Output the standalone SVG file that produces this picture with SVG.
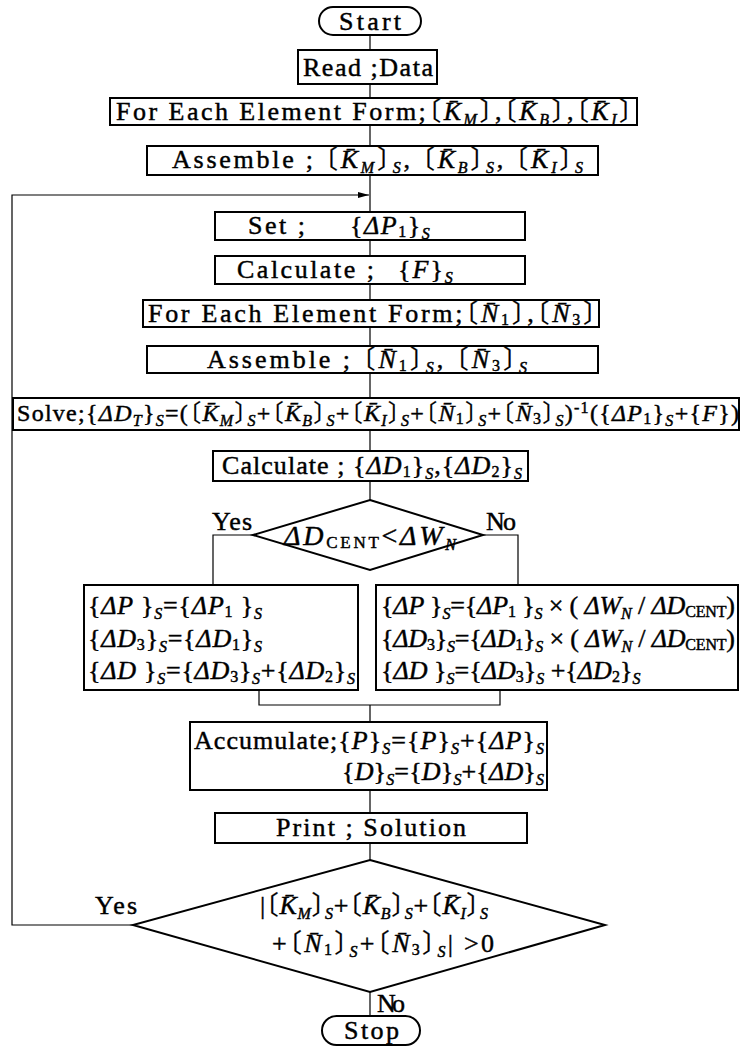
<svg xmlns="http://www.w3.org/2000/svg" width="740" height="1052" viewBox="0 0 740 1052">
<defs>
<style>
.box{fill:#fff;stroke:#000;stroke-width:2}
.ln{fill:none;stroke:#000;stroke-width:1.2}
.t{font-family:"Liberation Serif","Noto Sans CJK JP",serif;font-size:26px;fill:#000;stroke:#000;stroke-width:0.45}
.sm{font-size:24px}
.lg{font-size:28px}
.i{font-style:italic}
.s{font-size:16px;font-style:italic}
.d{font-size:16px;font-style:normal}
.c{font-size:17px;font-style:normal}
.br{font-family:"Noto Sans CJK JP",sans-serif;font-feature-settings:"halt";font-style:normal;stroke-width:0.2}
</style>
<marker id="arr" markerWidth="12" markerHeight="8" refX="11" refY="4" orient="auto" markerUnits="userSpaceOnUse">
<path d="M0,1 L11,4 L0,7 Z" fill="#000"/>
</marker>
</defs>
<rect width="740" height="1052" fill="#fff"/>

<g id="connectors">
<path class="ln" d="M370,35 V50 M370,84 V98 M370,125 V146 M370,175 V212 M370,240 V256 M370,284 V300 M370,327 V346 M370,373 V398 M370,430 V451 M370,481 V500"/>
<path class="ln" d="M253,535 H213 V585 M483,535 H518 V585"/>
<path class="ln" d="M259,690 V705 H500 V690 M370,705 V722 M370,790 V813 M370,843 V860 M370,992 V1016"/>
<path class="ln" d="M133,925 H12 V195 H369" marker-end="url(#arr)"/>
</g>

<g id="start">
<rect class="box" x="319" y="7" width="102" height="28" rx="14"/>
<text class="t" x="339" y="30" textLength="62">Start</text>
</g>

<g id="read">
<rect class="box" x="298" y="50" width="139" height="34"/>
<text class="t" x="303" y="76" textLength="130">Read ;Data</text>
</g>

<g id="form1">
<rect class="box" x="110" y="98" width="527" height="27"/>
<text class="t" x="116" y="120" textLength="516">For Each Element Form;<tspan class="br">〔</tspan><tspan class="i">K&#x304;</tspan><tspan class="s" baseline-shift="-5">M</tspan><tspan class="br">〕</tspan>,<tspan class="br">〔</tspan><tspan class="i">K&#x304;</tspan><tspan class="s" baseline-shift="-5">B</tspan><tspan class="br">〕</tspan>,<tspan class="br">〔</tspan><tspan class="i">K&#x304;</tspan><tspan class="s" baseline-shift="-5">I</tspan><tspan class="br">〕</tspan></text>
</g>

<g id="assemble1">
<rect class="box" x="147" y="146" width="451" height="29"/>
<text class="t" x="172" y="168" textLength="411">Assemble ; <tspan class="br">〔</tspan><tspan class="i">K&#x304;</tspan><tspan class="s" baseline-shift="-5">M</tspan><tspan class="br">〕</tspan><tspan class="s" baseline-shift="-5">S</tspan>, <tspan class="br">〔</tspan><tspan class="i">K&#x304;</tspan><tspan class="s" baseline-shift="-5">B</tspan><tspan class="br">〕</tspan><tspan class="s" baseline-shift="-5">S</tspan>, <tspan class="br">〔</tspan><tspan class="i">K&#x304;</tspan><tspan class="s" baseline-shift="-5">I</tspan><tspan class="br">〕</tspan><tspan class="s" baseline-shift="-5">S</tspan></text>
</g>

<g id="set">
<rect class="box" x="215" y="212" width="310" height="28"/>
<text class="t" x="248" y="234" letter-spacing="2.5">Set ;<tspan x="350" letter-spacing="1.5">{<tspan class="i">ΔP</tspan><tspan class="d" baseline-shift="-3">1</tspan>}<tspan class="s" baseline-shift="-5">S</tspan></tspan></text>
</g>

<g id="calcF">
<rect class="box" x="215" y="256" width="310" height="28"/>
<text class="t" x="237" y="278" letter-spacing="2.5">Calculate ;<tspan x="398" letter-spacing="2">{<tspan class="i">F</tspan>}<tspan class="s" baseline-shift="-5">S</tspan></tspan></text>
</g>

<g id="form2">
<rect class="box" x="143" y="300" width="456" height="27"/>
<text class="t" x="148" y="322" textLength="448">For Each Element Form;<tspan class="br">〔</tspan><tspan class="i">N&#x304;</tspan><tspan class="d" baseline-shift="-3">1</tspan><tspan class="br">〕</tspan>,<tspan class="br">〔</tspan><tspan class="i">N&#x304;</tspan><tspan class="d" baseline-shift="-3">3</tspan><tspan class="br">〕</tspan></text>
</g>

<g id="assemble2">
<rect class="box" x="147" y="346" width="451" height="27"/>
<text class="t" x="207" y="368" textLength="320">Assemble ;  <tspan class="br">〔</tspan><tspan class="i">N&#x304;</tspan><tspan class="d" baseline-shift="-3">1</tspan><tspan class="br">〕</tspan><tspan class="s" baseline-shift="-5">S</tspan>, <tspan class="br">〔</tspan><tspan class="i">N&#x304;</tspan><tspan class="d" baseline-shift="-3">3</tspan><tspan class="br">〕</tspan><tspan class="s" baseline-shift="-5">S</tspan></text>
</g>

<g id="solve">
<rect class="box" x="13" y="398" width="726" height="32"/>
<text class="t sm" x="17" y="421" textLength="722">Solve;{<tspan class="i">ΔD</tspan><tspan class="s" baseline-shift="-5">T</tspan>}<tspan class="s" baseline-shift="-5">S</tspan>=(<tspan class="br">〔</tspan><tspan class="i">K&#x304;</tspan><tspan class="s" baseline-shift="-5">M</tspan><tspan class="br">〕</tspan><tspan class="s" baseline-shift="-5">S</tspan>+<tspan class="br">〔</tspan><tspan class="i">K&#x304;</tspan><tspan class="s" baseline-shift="-5">B</tspan><tspan class="br">〕</tspan><tspan class="s" baseline-shift="-5">S</tspan>+<tspan class="br">〔</tspan><tspan class="i">K&#x304;</tspan><tspan class="s" baseline-shift="-5">I</tspan><tspan class="br">〕</tspan><tspan class="s" baseline-shift="-5">S</tspan>+<tspan class="br">〔</tspan><tspan class="i">N&#x304;</tspan><tspan class="d" baseline-shift="-3">1</tspan><tspan class="br">〕</tspan><tspan class="s" baseline-shift="-5">S</tspan>+<tspan class="br">〔</tspan><tspan class="i">N&#x304;</tspan><tspan class="d" baseline-shift="-3">3</tspan><tspan class="br">〕</tspan><tspan class="s" baseline-shift="-5">S</tspan>)<tspan class="d" baseline-shift="8">-1</tspan>({<tspan class="i">ΔP</tspan><tspan class="d" baseline-shift="-3">1</tspan>}<tspan class="s" baseline-shift="-5">S</tspan>+{<tspan class="i">F</tspan>})</text>
</g>

<g id="calcD">
<rect class="box" x="213" y="451" width="315" height="30"/>
<text class="t" x="222" y="474" textLength="300">Calculate ; {<tspan class="i">ΔD</tspan><tspan class="d" baseline-shift="-3">1</tspan>}<tspan class="s" baseline-shift="-5">S</tspan>,{<tspan class="i">ΔD</tspan><tspan class="d" baseline-shift="-3">2</tspan>}<tspan class="s" baseline-shift="-5">S</tspan></text>
</g>

<g id="decision1">
<polygon class="box" points="370,500 483,535 370,570 253,535"/>
<text class="t lg" x="284" y="545" textLength="172"><tspan class="i">ΔD</tspan><tspan class="c" baseline-shift="-3">CENT</tspan>&lt;<tspan class="i">ΔW</tspan><tspan class="s" baseline-shift="-5">N</tspan></text>
<text class="t" x="212" y="530" textLength="40">Yes</text>
<text class="t" x="486" y="530" textLength="30">No</text>
</g>

<g id="branchYes">
<rect class="box" x="84" y="585" width="274" height="105"/>
<text class="t" x="88" y="614" textLength="174">{<tspan class="i">ΔP </tspan>}<tspan class="s" baseline-shift="-5">S</tspan>={<tspan class="i">ΔP</tspan><tspan class="d" baseline-shift="-3">1</tspan> }<tspan class="s" baseline-shift="-5">S</tspan></text>
<text class="t" x="88" y="647" textLength="174">{<tspan class="i">ΔD</tspan><tspan class="d" baseline-shift="-3">3</tspan>}<tspan class="s" baseline-shift="-5">S</tspan>={<tspan class="i">ΔD</tspan><tspan class="d" baseline-shift="-3">1</tspan>}<tspan class="s" baseline-shift="-5">S</tspan></text>
<text class="t" x="88" y="679" textLength="267">{<tspan class="i">ΔD </tspan>}<tspan class="s" baseline-shift="-5">S</tspan>={<tspan class="i">ΔD</tspan><tspan class="d" baseline-shift="-3">3</tspan>}<tspan class="s" baseline-shift="-5">S</tspan>+{<tspan class="i">ΔD</tspan><tspan class="d" baseline-shift="-3">2</tspan>}<tspan class="s" baseline-shift="-5">S</tspan></text>
</g>

<g id="branchNo">
<rect class="box" x="376" y="585" width="362" height="105"/>
<text class="t" x="381" y="614" textLength="354">{<tspan class="i">ΔP </tspan>}<tspan class="s" baseline-shift="-5">S</tspan>={<tspan class="i">ΔP</tspan><tspan class="d" baseline-shift="-3">1</tspan> }<tspan class="s" baseline-shift="-5">S</tspan> × ( <tspan class="i">ΔW</tspan><tspan class="s" baseline-shift="-5">N</tspan> / <tspan class="i">ΔD</tspan><tspan class="d" baseline-shift="-3">CENT</tspan>)</text>
<text class="t" x="381" y="647" textLength="354">{<tspan class="i">ΔD</tspan><tspan class="d" baseline-shift="-3">3</tspan>}<tspan class="s" baseline-shift="-5">S</tspan>={<tspan class="i">ΔD</tspan><tspan class="d" baseline-shift="-3">1</tspan>}<tspan class="s" baseline-shift="-5">S</tspan> × ( <tspan class="i">ΔW</tspan><tspan class="s" baseline-shift="-5">N</tspan> / <tspan class="i">ΔD</tspan><tspan class="d" baseline-shift="-3">CENT</tspan>)</text>
<text class="t" x="381" y="679">{<tspan class="i">ΔD </tspan>}<tspan class="s" baseline-shift="-5">S</tspan>={<tspan class="i">ΔD</tspan><tspan class="d" baseline-shift="-3">3</tspan>}<tspan class="s" baseline-shift="-5">S</tspan> +{<tspan class="i">ΔD</tspan><tspan class="d" baseline-shift="-3">2</tspan>}<tspan class="s" baseline-shift="-5">S</tspan></text>
</g>

<g id="accumulate">
<rect class="box" x="190" y="722" width="357" height="68"/>
<text class="t" x="194" y="749" textLength="350">Accumulate;{<tspan class="i">P</tspan>}<tspan class="s" baseline-shift="-5">S</tspan>={<tspan class="i">P</tspan>}<tspan class="s" baseline-shift="-5">S</tspan>+{<tspan class="i">ΔP</tspan>}<tspan class="s" baseline-shift="-5">S</tspan></text>
<text class="t" x="342" y="780" textLength="202">{<tspan class="i">D</tspan>}<tspan class="s" baseline-shift="-5">S</tspan>={<tspan class="i">D</tspan>}<tspan class="s" baseline-shift="-5">S</tspan>+{<tspan class="i">ΔD</tspan>}<tspan class="s" baseline-shift="-5">S</tspan></text>
</g>

<g id="print">
<rect class="box" x="215" y="813" width="312" height="30"/>
<text class="t" x="276" y="836" textLength="190">Print ; Solution</text>
</g>

<g id="decision2">
<polygon class="box" points="370,860 605,925 370,992 133,925"/>
<text class="t" x="260" y="914" textLength="228">|<tspan class="br">〔</tspan><tspan class="i">K&#x304;</tspan><tspan class="s" baseline-shift="-5">M</tspan><tspan class="br">〕</tspan><tspan class="s" baseline-shift="-5">S</tspan>+<tspan class="br">〔</tspan><tspan class="i">K&#x304;</tspan><tspan class="s" baseline-shift="-5">B</tspan><tspan class="br">〕</tspan><tspan class="s" baseline-shift="-5">S</tspan>+<tspan class="br">〔</tspan><tspan class="i">K&#x304;</tspan><tspan class="s" baseline-shift="-5">I</tspan><tspan class="br">〕</tspan><tspan class="s" baseline-shift="-5">S</tspan></text>
<text class="t" x="272" y="952" textLength="222">+<tspan class="br">〔</tspan><tspan class="i">N&#x304;</tspan><tspan class="d" baseline-shift="-3">1</tspan><tspan class="br">〕</tspan><tspan class="s" baseline-shift="-5">S</tspan>+<tspan class="br">〔</tspan><tspan class="i">N&#x304;</tspan><tspan class="d" baseline-shift="-3">3</tspan><tspan class="br">〕</tspan><tspan class="s" baseline-shift="-5">S</tspan>| &gt;0</text>
<text class="t" x="95" y="914" textLength="42">Yes</text>
<text class="t" x="377" y="1012" textLength="28">No</text>
</g>

<g id="stop">
<rect class="box" x="322" y="1016" width="98" height="29" rx="14.5"/>
<text class="t" x="344" y="1039" textLength="55">Stop</text>
</g>
</svg>
